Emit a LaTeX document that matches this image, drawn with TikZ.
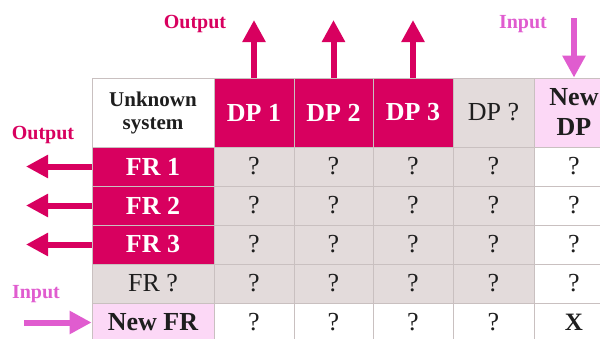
\documentclass[tikz,border=0pt]{standalone}
\usepackage{fontspec}
\setmainfont{Liberation Serif}
\usetikzlibrary{arrows.meta}
\definecolor{dpink}{HTML}{D8005F}
\definecolor{cgray}{HTML}{E3DBDB}
\definecolor{lpink}{HTML}{FCD8F6}
\definecolor{orch}{HTML}{E05CCF}
\definecolor{gridc}{HTML}{C9C0C0}
\definecolor{txt}{HTML}{1E1E1E}
\begin{document}
\begin{tikzpicture}[x=1pt,y=-1pt,
  cell/.style={draw=gridc, line width=0.8pt, inner sep=0pt, minimum height=39pt,
    text=txt, font=\fontsize{26}{30}\selectfont, align=center},
  hot/.style={cell, fill=dpink, text=white, font=\fontsize{26}{30}\selectfont\bfseries},
  unk/.style={cell, fill=cgray},
  newc/.style={cell, fill=lpink, font=\fontsize{26}{30}\selectfont\bfseries},
  plain/.style={cell, fill=white},
  hdr/.style={minimum height=69pt},
  outarrow/.style={draw=dpink, line width=6pt, -{Triangle[width=22pt,length=22pt]}},
  inarrow/.style={draw=orch, line width=6pt, -{Triangle[width=22pt,length=22pt]}},
  lbl/.style={font=\fontsize{20}{24}\selectfont\bfseries, anchor=base, inner sep=0pt}
]
\useasboundingbox (0,0) rectangle (600,338);
% header row
\node[plain,hdr,minimum width=122pt,font=\fontsize{21}{23}\selectfont\bfseries] (us) at (153,112.5) {Unknown\\system};
\node[hot,hdr,minimum width=80pt] (dp1) at (254,112.5) {DP 1};
\node[hot,hdr,minimum width=79pt] (dp2) at (333.5,112.5) {DP 2};
\node[hot,hdr,minimum width=80pt] (dp3) at (413,112.5) {DP 3};
\node[unk,hdr,minimum width=81pt] (dpq) at (493.5,112.5) {DP ?};
\node[newc,hdr,minimum width=80pt] (dpn) at (574,112.5) {New\\DP};
% first column
\node[hot,minimum width=122pt] (fr1) at (153,166.5) {FR 1};
\node[hot,minimum width=122pt] (fr2) at (153,205.5) {FR 2};
\node[hot,minimum width=122pt] (fr3) at (153,244.5) {FR 3};
\node[unk,minimum width=122pt] (frq) at (153,283.5) {FR ?};
\node[newc,minimum width=122pt] (frn) at (153,322.5) {New FR};
% body cells
\foreach \r/\y in {1/166.5,2/205.5,3/244.5,4/283.5}{
  \node[unk,minimum width=80pt] (q\r-1) at (254,\y) {?};
  \node[unk,minimum width=79pt] (q\r-2) at (333.5,\y) {?};
  \node[unk,minimum width=80pt] (q\r-3) at (413,\y) {?};
  \node[unk,minimum width=81pt] (q\r-4) at (493.5,\y) {?};
  \node[plain,minimum width=80pt] (q\r-5) at (574,\y) {?};
}
\node[plain,minimum width=80pt] (q5-1) at (254,322.5) {?};
\node[plain,minimum width=79pt] (q5-2) at (333.5,322.5) {?};
\node[plain,minimum width=80pt] (q5-3) at (413,322.5) {?};
\node[plain,minimum width=81pt] (q5-4) at (493.5,322.5) {?};
\node[plain,minimum width=80pt,font=\fontsize{25}{30}\selectfont\bfseries] (q5-5) at (574,322.5) {X};
% arrow ends
\coordinate (t1) at (254,20);
\coordinate (t2) at (333.5,20);
\coordinate (t3) at (413,20);
\coordinate (tin) at (574,18);
\coordinate (l1) at (26,166.5);
\coordinate (l2) at (26,205.5);
\coordinate (l3) at (26,244.5);
\coordinate (lin) at (24,322.5);
\draw[outarrow] (dp1.north) -- (t1);
\draw[outarrow] (dp2.north) -- (t2);
\draw[outarrow] (dp3.north) -- (t3);
\draw[outarrow] (fr1.west) -- (l1);
\draw[outarrow] (fr2.west) -- (l2);
\draw[outarrow] (fr3.west) -- (l3);
\draw[inarrow] (tin) -- (dpn.north);
\draw[inarrow] (lin) -- (frn.west);
% labels
\node[lbl,text=dpink] (lo1) at (195,28) {Output};
\node[lbl,text=dpink] (lo2) at (43,139) {Output};
\node[lbl,text=orch] (li1) at (523,28) {Input};
\node[lbl,text=orch] (li2) at (36,298) {Input};
\end{tikzpicture}
\end{document}
